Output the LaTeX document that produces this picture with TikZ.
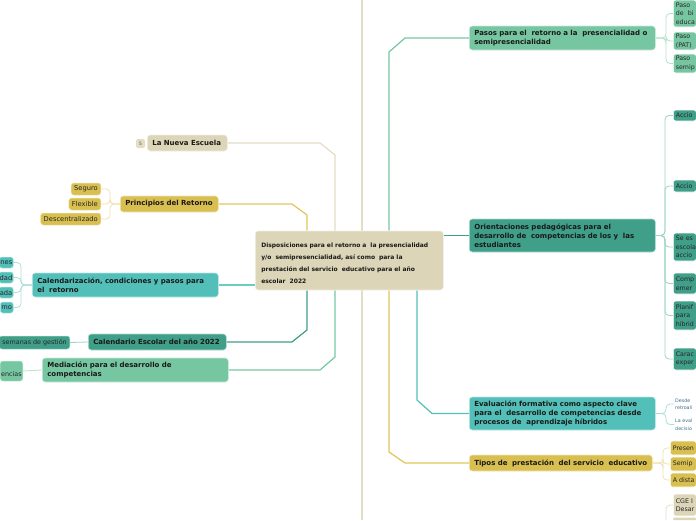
\documentclass[tikz,border=0pt]{standalone}
\usepackage{fontspec}
\setmainfont{DejaVu Sans}
\usetikzlibrary{backgrounds}
\definecolor{tanF}{HTML}{DCD5B7}
\definecolor{tanL}{HTML}{E4DDC6}
\definecolor{yelF}{HTML}{D8BF50}
\definecolor{yelL}{HTML}{E0C659}
\definecolor{yelC}{HTML}{EEE2AE}
\definecolor{tealF}{HTML}{52C0B8}
\definecolor{tealL}{HTML}{6CCBC3}
\definecolor{tealC}{HTML}{A9E0DB}
\definecolor{dtealF}{HTML}{3F9F88}
\definecolor{dtealC}{HTML}{9BD3C5}
\definecolor{grnF}{HTML}{77C6A2}
\definecolor{grnC}{HTML}{B5E2CC}
\definecolor{evalC}{HTML}{3D6F8E}
\begin{document}
\begin{tikzpicture}[x=1pt,y=-1pt,
  mbox/.style={rounded corners=3pt, anchor=west, inner xsep=5pt, inner ysep=0pt, align=left,
    font=\bfseries\fontsize{7}{9}\selectfont, text=black!90, draw=white!60!#1, line width=0.6pt, fill=#1},
  lchild/.style={rounded corners=2.5pt, anchor=east, inner xsep=3pt, inner ysep=0pt,
    font=\fontsize{6.7}{8}\selectfont, text=black!85, draw=white!60!#1, line width=0.5pt, fill=#1},
  rchild/.style={rounded corners=2.5pt, anchor=west, inner xsep=2.5pt, inner ysep=0pt, align=left, text width=18pt,
    font=\fontsize{6.3}{8.6}\selectfont, text=black!85, draw=white, line width=0.6pt, fill=#1},
  conn/.style={draw=#1, line width=1.2pt},
  sub/.style={draw=#1, line width=0.8pt, rounded corners=4pt}
]
\useasboundingbox (0,0) rectangle (696,520);

% root
\node[mbox=tanF, inner xsep=6pt, text width=176pt, minimum height=59pt, font=\bfseries\fontsize{6}{12}\selectfont] (root) at (255,260.5)
 {\rule{0pt}{10.5pt}Disposiciones para el retorno a\ \ la presencialidad\\ y/o\ \ semipresencialidad, así como\ \ para la\\ prestación del servicio\ \ educativo para el año\\ escolar\ \ 2022};

% left side
\node[mbox=tanF, text width=70pt, minimum height=16pt] (nueva) at (147,143) {La Nueva Escuela};
\node[rounded corners=2pt, fill=tanL, minimum size=9pt, inner sep=0pt, font=\fontsize{4.5}{5}\selectfont, text=black!70] (badge) at (140.5,143.5) {5};

\node[mbox=tanF, fill=yelF, draw=white!60!yelF, text width=88pt, minimum height=16pt] (princ) at (120,204) {Principios del Retorno};
\node[lchild=yelF, minimum height=12pt] (seguro) at (101,189) {Seguro};
\node[lchild=yelF, minimum height=12pt] (flex) at (101,204) {Flexible};
\node[lchild=yelF, minimum height=12pt] (desc) at (101,219) {Descentralizado};

\node[mbox=tealF, text width=176pt, minimum height=24pt] (calend) at (32,285) {Calendarización, condiciones y pasos para\\el\ \ retorno};
\node[lchild=tealF, minimum height=11pt, minimum width=13pt, inner xsep=1pt] (c1) at (13.5,262.5) {nes};
\node[lchild=tealF, minimum height=11pt, minimum width=13pt, inner xsep=1pt] (c2) at (13.5,277.5) {dad};
\node[lchild=tealF, minimum height=11pt, minimum width=13pt, inner xsep=1pt] (c3) at (13.5,292.5) {ada};
\node[lchild=tealF, minimum height=11pt, minimum width=13pt, inner xsep=1pt] (c4) at (13.5,307.5) {mo};

\node[mbox=dtealF, text width=128pt, minimum height=16pt] (calesc) at (88,342) {Calendario Escolar del año 2022};
\node[lchild=dtealF, minimum height=13pt, font=\fontsize{6.4}{8}\selectfont] (semanas) at (70,342.5) {semanas de gestión};

\node[mbox=grnF, text width=176pt, minimum height=24pt] (media) at (42,370) {Mediación para el desarrollo de\\competencias};
\node[lchild=grnF, minimum height=20pt, inner xsep=1pt, font=\fontsize{6.4}{8}\selectfont] (encias) at (23,371) {\smash{\raisebox{-5pt}{encias}}};

% right side
\node[mbox=grnF, text width=176pt, minimum height=24pt] (pasos) at (469,38) {Pasos para el\ \ retorno a la\ \ presencialidad o\\semipresencialidad};
\node[rchild=grnF, minimum height=27pt] (p1) at (673,13.5) {Paso\\de\ \ bi\\educa};
\node[rchild=grnF, minimum height=18pt] (p2) at (673,41) {Paso\\(PAT)};
\node[rchild=grnF, minimum height=19pt] (p3) at (673,63.5) {Paso\\semip};

\node[mbox=dtealF, text width=176pt, minimum height=33pt] (orient) at (469,235.5) {Orientaciones pedagógicas para el\\desarrollo de\ \ competencias de los y\ \ las\\estudiantes};
\node[rchild=dtealF, minimum height=11pt] (o1) at (673,115.5) {Accio};
\node[rchild=dtealF, minimum height=12pt] (o2) at (673,186) {Accio};
\node[rchild=dtealF, minimum height=28pt] (o3) at (673,247) {Se es\\escola\\accio};
\node[rchild=dtealF, minimum height=21pt] (o4) at (673,283.5) {Comp\\emer};
\node[rchild=dtealF, minimum height=29pt] (o5) at (673,315.5) {Planif\\para\\híbrid};
\node[rchild=dtealF, minimum height=22pt] (o6) at (673,359) {Carac\\exper};

\node[mbox=tealF, text width=176pt, minimum height=33pt] (eval) at (469,413.5) {Evaluación formativa como aspecto clave\\para el\ \ desarrollo de competencias desde\\procesos de\ \ aprendizaje híbridos};
\node[anchor=west, inner sep=0pt, align=left, text=evalC, font=\fontsize{4.8}{7.5}\selectfont] (e1) at (675,404) {Desde\\retroali};
\node[anchor=west, inner sep=0pt, align=left, text=evalC, font=\fontsize{4.8}{7.5}\selectfont] (e2) at (675,424.5) {La~eval\\decisio};

\node[mbox=yelF, text width=173pt, minimum height=16pt] (tipos) at (469,463) {Tipos de\ \ prestación\ \ del servicio\ \ educativo};
\node[rchild=yelF, minimum height=14pt, text width=21pt] (t1) at (670,448) {Presen};
\node[rchild=yelF, minimum height=14pt, text width=21pt] (t2) at (670,464) {Semip};
\node[rchild=yelF, minimum height=14pt, text width=21pt] (t3) at (670,480) {\mbox{A dista}};

\node[rchild=tanF, minimum height=22pt] (cge) at (673,505) {\mbox{CGE I}\\Desar};
\node[rounded corners=1pt, fill=tanF, anchor=north west, minimum width=23pt, minimum height=2.5pt, inner sep=0pt] (cge2) at (673,517.5) {};

\coordinate (topend) at (362,0);
\coordinate (botend) at (362,520);
\coordinate (cgeend) at (666,520);
\coordinate (jpr) at (110,204);
\coordinate (jca) at (21,285);
\coordinate (jpa) at (666,38);
\coordinate (jor) at (665,235.5);
\coordinate (jev) at (666,413.5);
\coordinate (jti) at (663,463);

\begin{pgfonlayer}{background}
\draw[conn=tanL] (root.north -| topend) -- (topend);
\draw[conn=tanL] (root.south -| botend) -- (botend);
\draw[conn=tanL] (nueva.east) -- (320,143) -- (335,155) -- (335,155 |- root.north);
\draw[conn=yelL] (princ.east) -- (292,204) -- (307,215) -- (307,215 |- root.north);
\draw[conn=tealL] (calend.east) -- (calend.east -| root.west);
\draw[conn=dtealF] (calesc.east) -- (292,342) -- (307,330) -- (307,330 |- root.south);
\draw[conn=grnF] (media.east) -- (320,370) -- (335,357) -- (335,357 |- root.south);
\draw[conn=grnF] (pasos.west) -- (405,38) -- (389,52) -- (389,52 |- root.north);
\draw[conn=dtealF] (orient.west) -- (orient.west -| root.east);
\draw[conn=tealF] (eval.west) -- (432,413.5) -- (417,400) -- (417,400 |- root.south);
\draw[conn=yelL] (tipos.west) -- (405,463) -- (389,452) -- (389,452 |- root.south);

\foreach \n in {seguro,flex,desc} \draw[sub=yelC] (princ.west) -- (jpr) |- (\n.east);
\foreach \n in {c1,c2,c3,c4} \draw[sub=tealC] (calend.west) -- (jca) |- (\n.east);
\draw[sub=dtealC] (calesc.west) -- (semanas.east);
\draw[sub=grnC] (media.west) -- (encias.east);
\foreach \n in {p1,p2,p3} \draw[sub=grnC] (pasos.east) -- (jpa) |- (\n.west);
\foreach \n in {o1,o2,o3,o4,o5,o6} \draw[sub=dtealC] (orient.east) -- (jor) |- (\n.west);
\foreach \n in {e1,e2} \draw[sub=tealC] (eval.east) -- (jev) |- ([xshift=-1pt]\n.west);
\foreach \n in {t1,t2,t3} \draw[sub=yelC] (tipos.east) -- (jti) |- (\n.west);
\draw[sub=tanL] (cgeend) |- (cge.west);
\end{pgfonlayer}
\end{tikzpicture}
\end{document}
